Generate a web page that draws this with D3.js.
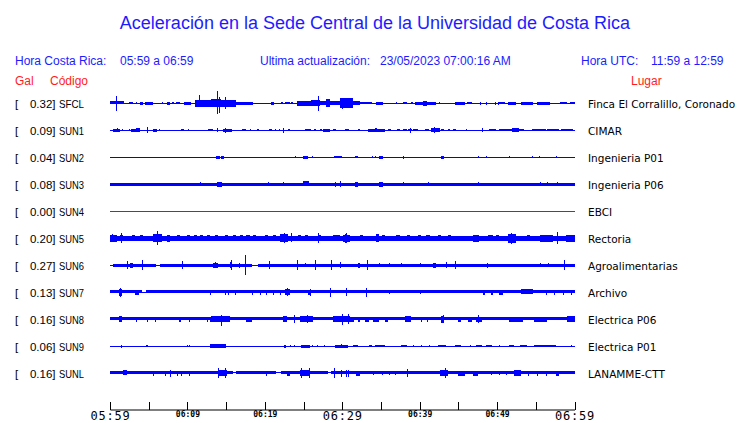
<!DOCTYPE html>
<html><head><meta charset="utf-8">
<script src="https://cdn.jsdelivr.net/npm/d3@7"></script>
<style>html,body{margin:0;padding:0;background:#fff;}svg{display:block;}</style>
</head><body><svg id="c" width="740" height="423"></svg>
<script>
// ---------- data ----------
const stations = ["SFCL","SUN1","SUN2","SUN3","SUN4","SUN5","SUN6","SUN7","SUN8","SUN9","SUNL"];
const gal = ["0.32","0.09","0.04","0.08","0.00","0.20","0.27","0.13","0.16","0.06","0.16"];
const places = ["Finca El Corralillo, Coronado","CIMAR","Ingenieria P01","Ingenieria P06","EBCI","Rectoria","Agroalimentarias","Archivo","Electrica P06","Electrica P01","LANAMME-CTT"];
const traceColors = ["blue","blue","blue","blue","red","blue","blue","blue","blue","blue","blue"];
const tickMinutes = [0,5,10,15,20,25,30,35,40,45,50,55,60];
const tickLabels = ["05:59","","06:09","","06:19","","06:29","","06:39","","06:49","","06:59"];
const bigLabels = ["05:59","06:29","06:59"];

// body segments [t0,t1,halfAmp], bursts [t0,t1,halfAmp], spikes [t,up,down]  (t in minutes from 05:59)
const bodySFCL = [[0,60,0.5]];
const burstsSFCL = [[0,1.8,1.7],[2.5,3.0,1],[3.4,3.5,1],[3.9,4.3,1.3],[4.5,5.6,1.3],[6.7,6.8,0.8],[7.3,7.7,1.3],[8.0,8.3,1],[8.5,9.0,1],[9.5,10.5,1.3],
 [11.0,13.1,3.5],[13.1,14.3,4],[14.3,16.3,3.5],[16.3,18.5,1.5],[20.8,21.2,1.3],[22.1,22.3,1.2],[22.6,23.2,1.2],[23.4,23.7,1.2],
 [24.1,26.0,2.5],[26.0,27.1,3],[27.1,27.9,2],[27.9,28.4,4],[28.4,29.7,1.8],[29.7,31.4,4.8],[31.4,32.3,2],[32.3,33.8,1.2],
 [34.4,35.3,1.5],[36.9,37.0,1],[37.9,38.3,1],[38.9,39.1,1],[39.4,40.4,1.5],[40.4,40.9,2.5],[40.9,42.1,1.5],[42.5,42.6,1],
 [44.6,45.8,1.5],[46.1,46.8,1.2],[50.2,51.0,1.2],[51.4,52.5,1.3],[53.1,54.6,1.3],[55.1,56.8,1.3],[58.1,59.0,1.2],[59.4,60,1]];
const spikesSFCL = [[0.77,7,8],[11.5,8,3],[13.8,12,11],[14.1,6,10],[14.8,6,6],[26.9,7,8],[30.0,5,6],[47.8,1.5,1.5],[48.6,1.5,1.5],[49.7,1.5,1.5],[50.1,1.5,1.5]];

const bodySUN1 = [[0,60,0.5]];
const burstsSUN1 = [[0.4,1.3,1.3],[2.7,3.4,1.3],[3.4,3.9,1.8],[5.5,6.1,1.5],[9.2,9.5,1],[12.7,13.3,1.2],[14.6,15.7,1.5],[17.1,17.6,1.2],[19.0,19.2,1.2],[20.6,20.9,1.2],
 [23.0,23.3,1],[25.2,25.9,1],[26.4,26.6,1],[27.1,27.4,1],[27.5,28.4,1.3],[28.8,29.2,1],[30.3,30.9,1.2],[32.0,32.3,1],[33.3,34.2,1.3],[34.2,34.5,2],[34.5,35.5,1.3],
 [35.9,36.3,1],[37.1,37.4,1],[37.9,38.3,1],[38.5,39.0,1],[39.2,39.8,1.2],[40.7,41.2,1],[41.5,42.6,2.2],[42.8,43.2,1],[43.6,43.9,1],[44.3,44.7,1],
 [49.0,49.9,1],[50.2,51.9,1.2],[51.9,52.8,1.8],[52.8,53.5,1.2],[54.5,56.3,1],[56.5,58.0,1],[58.3,59.8,1]];
const spikesSUN1 = [[0.9,2,2],[1.5,1,1],[2.5,1,1],[4.8,3,3],[6.3,1,1],[10.1,1,1],[13.8,2,2],[14.8,2.5,2.5],[18.1,1,1],[21.3,1,1],[21.8,1,1],[22.3,2.5,2.5],[38.8,2.5,2.5],[41.9,3,3],[46.0,1,1],[48.1,2,2]];

const bodySUN2 = [[0,60,0.5]];
const burstsSUN2 = [[13.7,14.2,1.3],[14.3,14.7,1.3],[24.9,25.6,1.3],[28.9,30.0,1.2],[31.6,32.0,1.2],[34.8,35.2,1.3],[42.7,43.1,1.3]];
const spikesSUN2 = [[23.9,1,1],[26.1,1,1],[33.8,1,1],[34.2,1,1],[37.8,1.3,1.3],[47.5,1,1],[48.6,1,1],[51.6,0.8,0.8],[54.5,1,1],[55.4,1,1],[57.6,1,1]];

const bodySUN3 = [[0,60,1.4]];
const burstsSUN3 = [[13.8,14.5,2.5],[24.9,25.7,2.7],[31.7,32.0,2.5],[34.8,35.3,2.3]];
const spikesSUN3 = [[11.6,1.8,1.8],[20.4,1.8,1.8],[22.4,1.8,1.8],[29.0,2.5,2.5],[29.7,2.8,2.8],[37.8,2.2,2.2],[41.1,2,2],[47.5,2.2,2.2],[55.5,2.2,2.2],[56.4,2.2,2.2],[57.8,2.2,2.2]];

const bodySUN4 = [[0,60,0.5]];
const burstsSUN4 = [];
const spikesSUN4 = [];

const bodySUN5 = [[0,60,2.3]];
const burstsSUN5 = [[0,0.9,3.3],[1.3,1.7,3],[2.8,3.2,3],[3.9,4.3,3],[5.6,6.7,4],[7.3,7.7,3.5],[8.6,9.0,3],[9.9,10.3,3],[10.8,11.2,3],[11.6,12.0,3],[12.5,12.9,3],
 [13.5,14.0,3],[14.8,15.3,3],[15.9,16.3,3],[16.8,17.2,3],[17.6,18.1,3],[18.5,18.9,3],[20.0,20.4,3],[21.1,21.5,3],[21.9,23.0,4],[24.3,24.7,3],[25.2,25.6,3],
 [26.9,27.3,3],[28.8,29.7,3],[30.1,31.0,3.5],[32.3,32.7,3],[34.4,34.8,4],[35.1,35.5,3],[37.0,37.4,3],[38.3,38.7,3],[39.8,40.2,3],[40.8,41.3,3],[42.4,42.8,3],
 [43.7,44.1,3],[46.9,47.7,3.5],[48.8,49.5,3],[49.9,50.3,3],[51.4,52.5,4.5],[53.8,54.2,3],[55.5,57.2,3.5],[58.9,60,3.3]];
const spikesSUN5 = [[0.3,4,4],[1.4,5,5],[6.1,7,7],[22.5,5,5],[23.4,5,4],[26.9,5,5],[30.3,4.5,4.5],[30.5,5,5],[51.8,5,6],[57.7,6,6]];

const bodySUN6 = [[0,0.4,0.5],[0.4,6.0,1.4],[6.0,6.4,0.5],[6.4,18.3,1.4],[18.3,19.1,0.5],[19.1,60,1.4]];
const burstsSUN6 = [[2.6,3.0,2.5],[13.3,14.0,2.5],[15.5,15.8,3],[16.6,16.8,2.5],[32.0,32.3,2.5],[41.7,42.1,2.5]];
const spikesSUN6 = [[2.2,4,4],[4.1,5,5],[9.3,4,4],[13.6,3,3],[15.6,5,5],[17.5,10,10],[20.5,4,4],[24.2,5,5],[25.2,2,2],[26.5,5,5],[28.6,5,5],[29.7,3,3],
 [33.2,5,5],[34.8,2,2],[36.1,2,2],[37.6,2,2],[40.0,2,2],[43.4,3,3],[44.6,4,4],[48.7,2.5,2.5],[55.5,2,2],[56.6,2,2],[58.7,5,5]];

const bodySUN7 = [[0,4.1,1.7],[4.1,4.7,0.5],[4.7,60,1.7]];
const burstsSUN7 = [[1.1,1.5,3.5],[3.2,3.7,2.5],[22.6,23.2,3],[25.6,26.0,2.5],[48.2,48.5,2.5],[49.2,49.5,2.5],[50.3,50.8,2.5],[53.1,54.6,2.7]];
const spikesSUN7 = [[1.3,4.5,4.5],[12.9,2.5,2.5],[14.8,2.5,2.5],[15.3,2.5,2.5],[16.1,2.5,2.5],[18.3,2.5,2.5],[19.4,2.5,2.5],[20.2,2.5,2.5],[21.1,2.5,2.5],[22.0,2.5,2.5],
 [22.9,4,4],[25.8,3.5,3.5],[28.4,4.5,4.5],[30.5,4,4],[33.1,4.5,4.5],[36.1,2,2],[40.0,2,2],[56.3,2.5,2.5],[57.3,2.5,2.5],[58.5,2.5,2.5],[59.6,2.5,2.5]];

const bodySUN8 = [[0,60,1.7]];
const burstsSUN8 = [[1.2,1.6,3],[8.9,9.2,2.5],[13.1,15.5,3],[17.6,18.3,2.5],[22.4,22.8,2.8],[24.5,26.2,3],[28.8,31.0,3],[31.0,31.5,2.5],[32.0,32.3,2.5],[33.0,33.4,2.5],
 [34.0,34.8,2.5],[35.5,35.9,2.5],[38.1,38.9,2.8],[42.8,43.2,3.5],[45.0,45.4,2.5],[46.3,46.7,2.5],[47.3,48.0,2.5],[51.6,53.3,2.3],[54.8,56.5,2.5],[59.0,60,2.8]];
const spikesSUN8 = [[3.4,2.5,2.5],[4.8,2.5,2.5],[5.8,2.5,2.5],[10.2,2.5,2.5],[12.5,2.5,2.5],[12.9,2.5,2.5],[14.4,4.5,6],[23.8,4,4],[25.4,4,4],[30.0,5.5,5.5],[30.7,5,5],
 [40.2,2.5,2.5],[41.0,2.5,2.5],[43.0,4,4],[47.5,4,4]];

const bodySUN9 = [[0,60,0.5]];
const burstsSUN9 = [[1.4,1.6,1.5],[4.6,4.9,1.2],[12.9,15.0,1.8],[22.5,22.7,1.3],[24.7,25.8,1.5],[29.0,30.8,1.5],[31.4,32.0,1],[33.4,33.8,1.2],[34.2,35.5,1.2],[37.6,38.3,1],
 [42.4,43.4,1.2],[44.5,45.4,1],[47.3,48.0,1],[48.6,49.3,1],[51.6,52.2,1],[52.9,53.8,1],[54.8,57.6,1.2]];
const spikesSUN9 = [[10.0,1,1],[10.2,1,1],[23.2,1,1],[23.8,1,1],[26.1,1,1],[26.8,1,1],[27.6,1,1],[29.9,2,2],[39.1,1,1],[40.2,1,1],[41.2,1,1],[46.5,1,1],[50.3,1,1],[59.6,1,1]];

const bodySUNL = [[0,15.9,1.7],[15.9,16.3,0.6],[16.3,21.5,1.7],[21.5,22.1,0.6],[22.1,28.2,1.7],[28.2,28.6,0.6],[28.6,60,1.7]];
const burstsSUNL = [[1.7,2.2,2.7],[14.0,15.1,3],[22.8,23.2,2.5],[24.5,25.8,3],[31.8,32.3,2.5],[42.6,43.7,3],[44.9,45.8,2.5],[46.9,47.5,2.5],[52.2,53.1,3],[57.6,58.0,2.5]];
const spikesSUNL = [[5.6,2.5,2.5],[7.1,2.5,2.5],[7.7,3.5,3.5],[8.6,2.5,2.5],[9.2,2.5,2.5],[10.2,2.5,2.5],[14.0,5,5],[14.8,5,5],[20.2,2.5,2.5],[24.7,5,5],[25.7,5,5],
 [28.9,5,5],[29.9,3.5,3.5],[30.5,3.5,3.5],[30.7,3.5,3.5],[34.0,2,2],[35.1,2,2],[36.0,2,2],[36.8,2,2],[38.3,4,4],[43.3,5,5],[49.2,2,2],[50.3,2,2],[51.2,2,2],
 [54.0,2.5,2.5],[55.2,2.5,2.5],[56.3,2.5,2.5]];

const bodies = [bodySFCL,bodySUN1,bodySUN2,bodySUN3,bodySUN4,bodySUN5,bodySUN6,bodySUN7,bodySUN8,bodySUN9,bodySUNL];
const bursts = [burstsSFCL,burstsSUN1,burstsSUN2,burstsSUN3,burstsSUN4,burstsSUN5,burstsSUN6,burstsSUN7,burstsSUN8,burstsSUN9,burstsSUNL];
const spikes = [spikesSFCL,spikesSUN1,spikesSUN2,spikesSUN3,spikesSUN4,spikesSUN5,spikesSUN6,spikesSUN7,spikesSUN8,spikesSUN9,spikesSUNL];

// ---------- drawing ----------
const svg = d3.select("#c");
const BLUE = "#1c1cff", RED = "#ff1c1c", TRACE_BLUE = "#0000ff", TRACE_RED = "#ff0000";
const sans = "'Liberation Sans', Arial, Helvetica, sans-serif";

const x = d3.scaleLinear().domain([0,60]).range([110,574.5]);
const row = d3.scalePoint().domain(stations).range([103,373]);
const amp = d3.scaleLinear().domain([0,1]).range([0,1]);

// title & header
svg.append("text").attr("x",375).attr("y",29).attr("text-anchor","middle")
  .style("font-family",sans).style("font-size","18px").attr("fill",BLUE)
  .text("Aceleración en la Sede Central de la Universidad de Costa Rica");
const hdr = [["Hora Costa Rica:",15],["05:59 a 06:59",120],["Ultima actualización:",260],["23/05/2023 07:00:16 AM",380],["Hora UTC:",581],["11:59 a 12:59",651]];
svg.selectAll("text.hdr").data(hdr).join("text").attr("class","hdr")
  .attr("x",d=>d[1]).attr("y",65).style("font-family",sans).style("font-size","12px").attr("fill",BLUE).text(d=>d[0]);
svg.selectAll("text.sub").data([["Gal",15],["Código",50],["Lugar",631]]).join("text").attr("class","sub")
  .attr("x",d=>d[1]).attr("y",85).style("font-family",sans).style("font-size","12px").attr("fill",RED).text(d=>d[0]);

// row labels
const lab = svg.append("g").style("font-family",sans).style("font-size","11.5px").attr("fill","#000");
stations.forEach((s,i)=>{
  const y = row(s)+5;
  lab.append("text").attr("x",15).attr("y",y).text("[");
  lab.append("text").attr("x",55.5).attr("y",y).attr("text-anchor","end").text(gal[i]+"]");
  lab.append("text").attr("x",59).attr("y",y).attr("textLength",25).attr("lengthAdjust","spacingAndGlyphs").text(s);
  lab.append("text").attr("x",588).attr("y",y).style("font-family","'DejaVu Sans', sans-serif").style("font-size","10.5px").text(places[i]);
});

// traces
const tr = svg.append("g").attr("shape-rendering","crispEdges");
stations.forEach((s,i)=>{
  const cy = row(s);
  const col = traceColors[i]==="red" ? TRACE_RED : TRACE_BLUE;
  const g = tr.append("g").attr("fill",col);
  const seg = bodies[i].concat(bursts[i]);
  g.selectAll("rect.seg").data(seg).join("rect").attr("class","seg")
    .attr("x",d=>Math.round(x(d[0])))
    .attr("width",d=>Math.max(1,Math.round(x(d[1]))-Math.round(x(d[0]))))
    .attr("y",d=>Math.round(cy-amp(d[2])))
    .attr("height",d=>Math.max(1,Math.round(2*amp(d[2]))));
  g.selectAll("rect.spk").data(spikes[i]).join("rect").attr("class","spk")
    .attr("x",d=>Math.round(x(d[0])))
    .attr("width",1)
    .attr("y",d=>Math.round(cy-amp(d[1])))
    .attr("height",d=>Math.round(amp(d[1])+amp(d[2])));
});

// time axis
const axis = d3.axisBottom(x).tickValues(tickMinutes).tickSizeInner(-8).tickSizeOuter(0).tickPadding(3)
  .tickFormat((d,i)=>tickLabels[i]);
const ax = svg.append("g").attr("transform","translate(0,409.5)").call(axis);
ax.select(".domain").attr("stroke","#000");
ax.selectAll(".tick line").attr("stroke","#000").attr("shape-rendering","crispEdges");
ax.selectAll(".tick text").attr("fill","#000")
  .style("font-family","'DejaVu Sans Mono', monospace")
  .each(function(d,i){
    const big = bigLabels.includes(tickLabels[i]);
    d3.select(this).attr("dy",null).attr("y", big ? 10 : 7)
      .style("font-size", big ? "12px" : "8px")
      .style("font-weight", big ? "normal" : "bold")
      .style("letter-spacing", big ? "0.8px" : "0");
  });
</script>
</body></html>
